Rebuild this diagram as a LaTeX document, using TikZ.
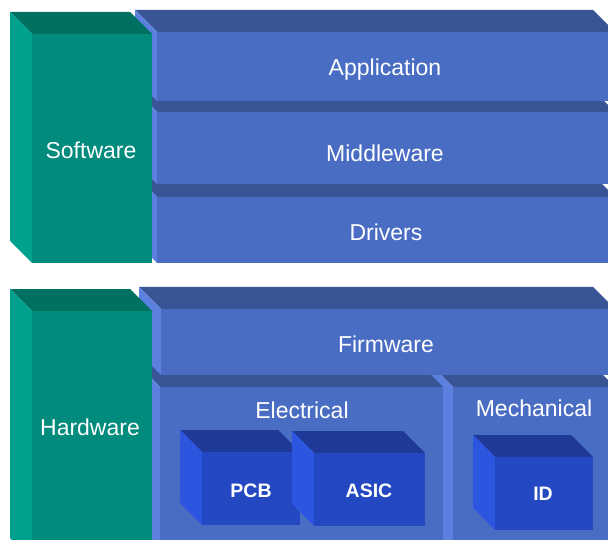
\documentclass[tikz,border=0pt]{standalone}
\usepackage{fontspec}
\setmainfont{Liberation Sans}
\usepackage{tikz}
\usetikzlibrary{positioning}
\definecolor{TealFront}{RGB}{0,139,125}
\definecolor{TealTop}{RGB}{0,112,97}
\definecolor{TealSide}{RGB}{0,160,143}
\definecolor{SlabFront}{RGB}{74,109,196}
\definecolor{SlabTop}{RGB}{58,85,150}
\definecolor{SlabSide}{RGB}{91,128,224}
\definecolor{ChipFront}{RGB}{36,72,194}
\definecolor{ChipTop}{RGB}{31,58,150}
\definecolor{ChipSide}{RGB}{44,85,224}
% box with depth 22: x1 y1 x2 y2 of the front face, then front, top, side colours
\newcommand{\blockbox}[7]{%
  \fill[#6] ({#1-22},{#2-22}) -- ({#3-22},{#2-22}) -- (#3,#2) -- (#1,#2) -- cycle;
  \fill[#7] ({#1-22},{#2-22}) -- (#1,#2) -- (#1,#4) -- ({#1-22},{#4-22}) -- cycle;
  \fill[#5] (#1,#2) rectangle (#3,#4);}
\begin{document}
\begin{tikzpicture}[x=1pt,y=-1pt,
    layer/.style={text=white,font=\fontsize{23}{26}\selectfont},
    chip/.style={text=white,font=\bfseries\fontsize{19.5}{22}\selectfont}]
  \useasboundingbox (0,0) rectangle (608,540);
  \clip (0,0) rectangle (608,540);
  % software stack
  \blockbox{157}{197}{615}{263}{SlabFront}{SlabTop}{SlabSide}
  \blockbox{157}{112}{615}{184}{SlabFront}{SlabTop}{SlabSide}
  \blockbox{157}{32}{615}{101}{SlabFront}{SlabTop}{SlabSide}
  \blockbox{32}{34}{152}{263}{TealFront}{TealTop}{TealSide}
  % hardware stack
  \blockbox{453}{387}{615}{560}{SlabFront}{SlabTop}{SlabSide}
  \blockbox{160}{387}{443}{560}{SlabFront}{SlabTop}{SlabSide}
  \blockbox{161}{309}{615}{375}{SlabFront}{SlabTop}{SlabSide}
  \blockbox{32}{311}{152}{560}{TealFront}{TealTop}{TealSide}
  % parts
  \blockbox{202}{452}{300}{525}{ChipFront}{ChipTop}{ChipSide}
  \blockbox{314}{453}{425}{526}{ChipFront}{ChipTop}{ChipSide}
  \blockbox{495}{457}{593}{530}{ChipFront}{ChipTop}{ChipSide}
  % labels
  \node[layer] (software) at (91,150) {Software};
  \node[layer] (application) at (385,70) {Application};
  \node[layer] (middleware) at (385,153) {Middleware};
  \node[layer] (drivers) at (386,232) {Drivers};
  \node[layer] (hardware) at (90,427) {Hardware};
  \node[layer] (firmware) at (386,344) {Firmware};
  \node[layer] (electrical) at (302,410) {Electrical};
  \node[layer] (mechanical) at (534,408) {Mechanical};
  \node[chip] (pcb) at (251,491) {PCB};
  \node[chip] (asic) at (369,491) {ASIC};
  \node[chip] (id) at (543,494) {ID};
\end{tikzpicture}
\end{document}
